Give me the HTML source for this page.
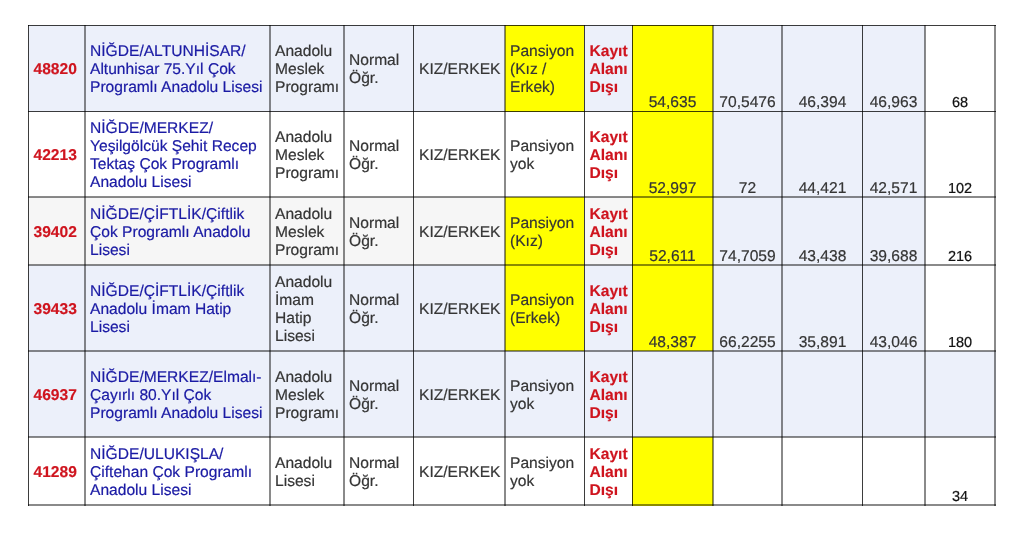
<!DOCTYPE html>
<html><head><meta charset="utf-8"><style>
html,body{margin:0;padding:0;background:#fff;}
body{width:1024px;height:545px;position:relative;overflow:hidden;font-family:"Liberation Sans",sans-serif;text-rendering:geometricPrecision;-webkit-font-smoothing:antialiased;}
.bg{position:absolute;}
.ln{position:absolute;}
.c>div{position:relative;top:1.6px}
.c{position:absolute;display:flex;flex-direction:column;justify-content:center;box-sizing:border-box;padding-left:4px;font-size:15.6px;line-height:18.0px;color:#353535;white-space:nowrap;}
.r{color:#cf141e;font-weight:bold;-webkit-text-stroke:0.15px;padding-left:4.5px;}
.kz{padding-left:5px;}
.b{color:#1a1aa4;}
.n{position:absolute;box-sizing:border-box;text-align:center;font-size:15.6px;line-height:18.0px;color:#353535;white-space:nowrap;}
.k{position:absolute;box-sizing:border-box;text-align:center;font-size:14.5px;line-height:18px;color:#111;white-space:nowrap;}
#w{position:absolute;left:0;top:0;width:1024px;height:545px;will-change:transform;filter:blur(0.35px);-webkit-text-stroke:0.2px;}
</style></head><body><div id="w">

<div class="bg" style="left:28px;top:25px;width:57px;height:87px;background:#ecf0fa"></div>
<div class="bg" style="left:85px;top:25px;width:185px;height:87px;background:#ecf0fa"></div>
<div class="bg" style="left:270px;top:25px;width:74px;height:87px;background:#ecf0fa"></div>
<div class="bg" style="left:344px;top:25px;width:69px;height:87px;background:#ecf0fa"></div>
<div class="bg" style="left:413px;top:25px;width:92px;height:87px;background:#ecf0fa"></div>
<div class="bg" style="left:505px;top:25px;width:79px;height:87px;background:#ffff00"></div>
<div class="bg" style="left:584px;top:25px;width:48px;height:87px;background:#ecf0fa"></div>
<div class="bg" style="left:632px;top:25px;width:81px;height:87px;background:#ffff00"></div>
<div class="bg" style="left:713px;top:25px;width:69px;height:87px;background:#ecf0fa"></div>
<div class="bg" style="left:782px;top:25px;width:80px;height:87px;background:#ecf0fa"></div>
<div class="bg" style="left:862px;top:25px;width:63px;height:87px;background:#ecf0fa"></div>
<div class="bg" style="left:925px;top:25px;width:71px;height:87px;background:#ffffff"></div>
<div class="bg" style="left:28px;top:112px;width:57px;height:85px;background:#ffffff"></div>
<div class="bg" style="left:85px;top:112px;width:185px;height:85px;background:#ffffff"></div>
<div class="bg" style="left:270px;top:112px;width:74px;height:85px;background:#ffffff"></div>
<div class="bg" style="left:344px;top:112px;width:69px;height:85px;background:#ffffff"></div>
<div class="bg" style="left:413px;top:112px;width:92px;height:85px;background:#ffffff"></div>
<div class="bg" style="left:505px;top:112px;width:79px;height:85px;background:#ffffff"></div>
<div class="bg" style="left:584px;top:112px;width:48px;height:85px;background:#ffffff"></div>
<div class="bg" style="left:632px;top:112px;width:81px;height:85px;background:#ffff00"></div>
<div class="bg" style="left:713px;top:112px;width:69px;height:85px;background:#ecf0fa"></div>
<div class="bg" style="left:782px;top:112px;width:80px;height:85px;background:#ecf0fa"></div>
<div class="bg" style="left:862px;top:112px;width:63px;height:85px;background:#ecf0fa"></div>
<div class="bg" style="left:925px;top:112px;width:71px;height:85px;background:#ffffff"></div>
<div class="bg" style="left:28px;top:197px;width:57px;height:68px;background:#f6f6f6"></div>
<div class="bg" style="left:85px;top:197px;width:185px;height:68px;background:#f6f6f6"></div>
<div class="bg" style="left:270px;top:197px;width:74px;height:68px;background:#f6f6f6"></div>
<div class="bg" style="left:344px;top:197px;width:69px;height:68px;background:#f6f6f6"></div>
<div class="bg" style="left:413px;top:197px;width:92px;height:68px;background:#f6f6f6"></div>
<div class="bg" style="left:505px;top:197px;width:79px;height:68px;background:#ffff00"></div>
<div class="bg" style="left:584px;top:197px;width:48px;height:68px;background:#f6f6f6"></div>
<div class="bg" style="left:632px;top:197px;width:81px;height:68px;background:#ffff00"></div>
<div class="bg" style="left:713px;top:197px;width:69px;height:68px;background:#ecf0fa"></div>
<div class="bg" style="left:782px;top:197px;width:80px;height:68px;background:#ecf0fa"></div>
<div class="bg" style="left:862px;top:197px;width:63px;height:68px;background:#ecf0fa"></div>
<div class="bg" style="left:925px;top:197px;width:71px;height:68px;background:#ffffff"></div>
<div class="bg" style="left:28px;top:265px;width:57px;height:86px;background:#ecf0fa"></div>
<div class="bg" style="left:85px;top:265px;width:185px;height:86px;background:#ecf0fa"></div>
<div class="bg" style="left:270px;top:265px;width:74px;height:86px;background:#ecf0fa"></div>
<div class="bg" style="left:344px;top:265px;width:69px;height:86px;background:#ecf0fa"></div>
<div class="bg" style="left:413px;top:265px;width:92px;height:86px;background:#ecf0fa"></div>
<div class="bg" style="left:505px;top:265px;width:79px;height:86px;background:#ffff00"></div>
<div class="bg" style="left:584px;top:265px;width:48px;height:86px;background:#ecf0fa"></div>
<div class="bg" style="left:632px;top:265px;width:81px;height:86px;background:#ffff00"></div>
<div class="bg" style="left:713px;top:265px;width:69px;height:86px;background:#ecf0fa"></div>
<div class="bg" style="left:782px;top:265px;width:80px;height:86px;background:#ecf0fa"></div>
<div class="bg" style="left:862px;top:265px;width:63px;height:86px;background:#ecf0fa"></div>
<div class="bg" style="left:925px;top:265px;width:71px;height:86px;background:#ffffff"></div>
<div class="bg" style="left:28px;top:351px;width:57px;height:86px;background:#ecf0fa"></div>
<div class="bg" style="left:85px;top:351px;width:185px;height:86px;background:#ecf0fa"></div>
<div class="bg" style="left:270px;top:351px;width:74px;height:86px;background:#ecf0fa"></div>
<div class="bg" style="left:344px;top:351px;width:69px;height:86px;background:#ecf0fa"></div>
<div class="bg" style="left:413px;top:351px;width:92px;height:86px;background:#ecf0fa"></div>
<div class="bg" style="left:505px;top:351px;width:79px;height:86px;background:#ecf0fa"></div>
<div class="bg" style="left:584px;top:351px;width:48px;height:86px;background:#ecf0fa"></div>
<div class="bg" style="left:632px;top:351px;width:81px;height:86px;background:#ecf0fa"></div>
<div class="bg" style="left:713px;top:351px;width:69px;height:86px;background:#ecf0fa"></div>
<div class="bg" style="left:782px;top:351px;width:80px;height:86px;background:#ecf0fa"></div>
<div class="bg" style="left:862px;top:351px;width:63px;height:86px;background:#ecf0fa"></div>
<div class="bg" style="left:925px;top:351px;width:71px;height:86px;background:#ecf0fa"></div>
<div class="bg" style="left:28px;top:437px;width:57px;height:69px;background:#ffffff"></div>
<div class="bg" style="left:85px;top:437px;width:185px;height:69px;background:#ffffff"></div>
<div class="bg" style="left:270px;top:437px;width:74px;height:69px;background:#ffffff"></div>
<div class="bg" style="left:344px;top:437px;width:69px;height:69px;background:#ffffff"></div>
<div class="bg" style="left:413px;top:437px;width:92px;height:69px;background:#ffffff"></div>
<div class="bg" style="left:505px;top:437px;width:79px;height:69px;background:#ffffff"></div>
<div class="bg" style="left:584px;top:437px;width:48px;height:69px;background:#ffffff"></div>
<div class="bg" style="left:632px;top:437px;width:81px;height:69px;background:#ffff00"></div>
<div class="bg" style="left:713px;top:437px;width:69px;height:69px;background:#ffffff"></div>
<div class="bg" style="left:782px;top:437px;width:80px;height:69px;background:#ffffff"></div>
<div class="bg" style="left:862px;top:437px;width:63px;height:69px;background:#ffffff"></div>
<div class="bg" style="left:925px;top:437px;width:71px;height:69px;background:#ffffff"></div>
<div class="ln" style="left:28px;top:25px;width:968px;height:1px;background:rgba(0,0,0,0.76)"></div>
<div class="ln" style="left:28px;top:111px;width:968px;height:1px;background:rgba(0,0,0,0.76)"></div>
<div class="ln" style="left:28px;top:196px;width:968px;height:2px;background:rgba(0,0,0,0.46)"></div>
<div class="ln" style="left:28px;top:264px;width:968px;height:2px;background:rgba(0,0,0,0.46)"></div>
<div class="ln" style="left:28px;top:350px;width:968px;height:2px;background:rgba(0,0,0,0.46)"></div>
<div class="ln" style="left:28px;top:436px;width:968px;height:2px;background:rgba(0,0,0,0.46)"></div>
<div class="ln" style="left:28px;top:504px;width:968px;height:2px;background:rgba(0,0,0,0.46)"></div>
<div class="ln" style="left:28px;top:25px;width:1px;height:481px;background:rgba(0,0,0,0.76)"></div>
<div class="ln" style="left:84px;top:25px;width:2px;height:481px;background:rgba(0,0,0,0.46)"></div>
<div class="ln" style="left:269px;top:25px;width:2px;height:481px;background:rgba(0,0,0,0.46)"></div>
<div class="ln" style="left:343px;top:25px;width:2px;height:481px;background:rgba(0,0,0,0.46)"></div>
<div class="ln" style="left:413px;top:25px;width:1px;height:481px;background:rgba(0,0,0,0.76)"></div>
<div class="ln" style="left:504px;top:25px;width:2px;height:481px;background:rgba(0,0,0,0.46)"></div>
<div class="ln" style="left:584px;top:25px;width:1px;height:481px;background:rgba(0,0,0,0.76)"></div>
<div class="ln" style="left:632px;top:25px;width:1px;height:481px;background:rgba(0,0,0,0.76)"></div>
<div class="ln" style="left:712px;top:25px;width:2px;height:481px;background:rgba(0,0,0,0.46)"></div>
<div class="ln" style="left:781px;top:25px;width:2px;height:481px;background:rgba(0,0,0,0.46)"></div>
<div class="ln" style="left:862px;top:25px;width:1px;height:481px;background:rgba(0,0,0,0.76)"></div>
<div class="ln" style="left:924px;top:25px;width:2px;height:481px;background:rgba(0,0,0,0.46)"></div>
<div class="ln" style="left:994px;top:25px;width:2px;height:481px;background:rgba(0,0,0,0.46)"></div>
<div class="c r" style="left:29px;top:26px;width:55px;height:85px"><div>48820</div></div>
<div class="c b" style="left:86px;top:26px;width:183px;height:85px"><div>NİĞDE/ALTUNHİSAR/<br>Altunhisar 75.Yıl Çok<br>Programlı Anadolu Lisesi</div></div>
<div class="c " style="left:271px;top:26px;width:72px;height:85px"><div>Anadolu<br>Meslek<br>Programı</div></div>
<div class="c " style="left:345px;top:26px;width:68px;height:85px"><div>Normal<br>Öğr.</div></div>
<div class="c kz" style="left:414px;top:26px;width:90px;height:85px"><div>KIZ/ERKEK</div></div>
<div class="c " style="left:506px;top:26px;width:78px;height:85px"><div>Pansiyon<br>(Kız /<br>Erkek)</div></div>
<div class="c r" style="left:585px;top:26px;width:47px;height:85px"><div>Kayıt<br>Alanı<br>Dışı</div></div>
<div class="n" style="left:633px;top:94.00px;width:79px">54,635</div>
<div class="n" style="left:714px;top:94.00px;width:67px">70,5476</div>
<div class="n" style="left:783px;top:94.00px;width:79px">46,394</div>
<div class="n" style="left:863px;top:94.00px;width:61px">46,963</div>
<div class="k" style="left:926px;top:94.00px;width:68px">68</div>
<div class="c r" style="left:29px;top:112px;width:55px;height:84px"><div>42213</div></div>
<div class="c b" style="left:86px;top:112px;width:183px;height:84px"><div>NİĞDE/MERKEZ/<br>Yeşilgölcük Şehit Recep<br>Tektaş Çok Programlı<br>Anadolu Lisesi</div></div>
<div class="c " style="left:271px;top:112px;width:72px;height:84px"><div>Anadolu<br>Meslek<br>Programı</div></div>
<div class="c " style="left:345px;top:112px;width:68px;height:84px"><div>Normal<br>Öğr.</div></div>
<div class="c kz" style="left:414px;top:112px;width:90px;height:84px"><div>KIZ/ERKEK</div></div>
<div class="c " style="left:506px;top:112px;width:78px;height:84px"><div>Pansiyon<br>yok</div></div>
<div class="c r" style="left:585px;top:112px;width:47px;height:84px"><div>Kayıt<br>Alanı<br>Dışı</div></div>
<div class="n" style="left:633px;top:180.00px;width:79px">52,997</div>
<div class="n" style="left:714px;top:180.00px;width:67px">72</div>
<div class="n" style="left:783px;top:180.00px;width:79px">44,421</div>
<div class="n" style="left:863px;top:180.00px;width:61px">42,571</div>
<div class="k" style="left:926px;top:180.00px;width:68px">102</div>
<div class="c r" style="left:29px;top:198px;width:55px;height:66px"><div>39402</div></div>
<div class="c b" style="left:86px;top:198px;width:183px;height:66px"><div>NİĞDE/ÇİFTLİK/Çiftlik<br>Çok Programlı Anadolu<br>Lisesi</div></div>
<div class="c " style="left:271px;top:198px;width:72px;height:66px"><div>Anadolu<br>Meslek<br>Programı</div></div>
<div class="c " style="left:345px;top:198px;width:68px;height:66px"><div>Normal<br>Öğr.</div></div>
<div class="c kz" style="left:414px;top:198px;width:90px;height:66px"><div>KIZ/ERKEK</div></div>
<div class="c " style="left:506px;top:198px;width:78px;height:66px"><div>Pansiyon<br>(Kız)</div></div>
<div class="c r" style="left:585px;top:198px;width:47px;height:66px"><div>Kayıt<br>Alanı<br>Dışı</div></div>
<div class="n" style="left:633px;top:248.00px;width:79px">52,611</div>
<div class="n" style="left:714px;top:248.00px;width:67px">74,7059</div>
<div class="n" style="left:783px;top:248.00px;width:79px">43,438</div>
<div class="n" style="left:863px;top:248.00px;width:61px">39,688</div>
<div class="k" style="left:926px;top:248.00px;width:68px">216</div>
<div class="c r" style="left:29px;top:266px;width:55px;height:84px"><div>39433</div></div>
<div class="c b" style="left:86px;top:266px;width:183px;height:84px"><div>NİĞDE/ÇİFTLİK/Çiftlik<br>Anadolu İmam Hatip<br>Lisesi</div></div>
<div class="c " style="left:271px;top:266px;width:72px;height:84px"><div>Anadolu<br>İmam<br>Hatip<br>Lisesi</div></div>
<div class="c " style="left:345px;top:266px;width:68px;height:84px"><div>Normal<br>Öğr.</div></div>
<div class="c kz" style="left:414px;top:266px;width:90px;height:84px"><div>KIZ/ERKEK</div></div>
<div class="c " style="left:506px;top:266px;width:78px;height:84px"><div>Pansiyon<br>(Erkek)</div></div>
<div class="c r" style="left:585px;top:266px;width:47px;height:84px"><div>Kayıt<br>Alanı<br>Dışı</div></div>
<div class="n" style="left:633px;top:334.00px;width:79px">48,387</div>
<div class="n" style="left:714px;top:334.00px;width:67px">66,2255</div>
<div class="n" style="left:783px;top:334.00px;width:79px">35,891</div>
<div class="n" style="left:863px;top:334.00px;width:61px">43,046</div>
<div class="k" style="left:926px;top:334.00px;width:68px">180</div>
<div class="c r" style="left:29px;top:352px;width:55px;height:84px"><div>46937</div></div>
<div class="c b" style="left:86px;top:352px;width:183px;height:84px"><div>NİĞDE/MERKEZ/Elmalı-<br>Çayırlı 80.Yıl Çok<br>Programlı Anadolu Lisesi</div></div>
<div class="c " style="left:271px;top:352px;width:72px;height:84px"><div>Anadolu<br>Meslek<br>Programı</div></div>
<div class="c " style="left:345px;top:352px;width:68px;height:84px"><div>Normal<br>Öğr.</div></div>
<div class="c kz" style="left:414px;top:352px;width:90px;height:84px"><div>KIZ/ERKEK</div></div>
<div class="c " style="left:506px;top:352px;width:78px;height:84px"><div>Pansiyon<br>yok</div></div>
<div class="c r" style="left:585px;top:352px;width:47px;height:84px"><div>Kayıt<br>Alanı<br>Dışı</div></div>
<div class="c r" style="left:29px;top:438px;width:55px;height:66px"><div>41289</div></div>
<div class="c b" style="left:86px;top:438px;width:183px;height:66px"><div>NİĞDE/ULUKIŞLA/<br>Çiftehan Çok Programlı<br>Anadolu Lisesi</div></div>
<div class="c " style="left:271px;top:438px;width:72px;height:66px"><div>Anadolu<br>Lisesi</div></div>
<div class="c " style="left:345px;top:438px;width:68px;height:66px"><div>Normal<br>Öğr.</div></div>
<div class="c kz" style="left:414px;top:438px;width:90px;height:66px"><div>KIZ/ERKEK</div></div>
<div class="c " style="left:506px;top:438px;width:78px;height:66px"><div>Pansiyon<br>yok</div></div>
<div class="c r" style="left:585px;top:438px;width:47px;height:66px"><div>Kayıt<br>Alanı<br>Dışı</div></div>
<div class="k" style="left:926px;top:488.00px;width:68px">34</div>
</div></body></html>
